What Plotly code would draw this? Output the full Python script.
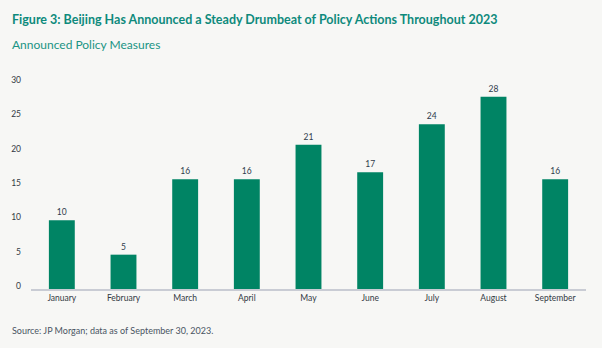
import plotly.graph_objects as go

months = ["January", "February", "March", "April", "May", "June", "July", "August", "September"]
measures = [10, 5, 16, 16, 21, 17, 24, 28, 16]
y_ticks = [0, 5, 10, 15, 20, 25, 30]

W, H = 602, 348
L, R, T, B = 31, 16, 83, 59
pw, ph = W - L - R, H - T - B

def px_x(X):
    return (X - L) / pw

def px_y(Y):
    return (H - B - Y) / ph

FONT = "Lato"

fig = go.Figure(go.Bar(
    x=months, y=measures,
    marker=dict(color="#008464", line=dict(width=0)),
    width=0.42,
    text=[str(v) for v in measures],
    textposition="outside",
    textfont=dict(family=FONT, size=8.5, color="#2f3b4c"),
    cliponaxis=False,
))

fig.update_layout(
    width=W, height=H,
    margin=dict(l=L, r=R, t=T, b=B, pad=0),
    paper_bgcolor="#f7f7f5", plot_bgcolor="#f7f7f5",
    showlegend=False,
    font=dict(family=FONT, size=8.5, color="#333333"),
    xaxis=dict(showgrid=False, showline=True, linecolor="#c9ccd4", linewidth=2,
               ticks="", tickfont=dict(size=8.5, color="#333a44"), zeroline=False),
    yaxis=dict(range=[0, 30], tickvals=y_ticks, showgrid=False, zeroline=False,
               showline=False, ticks="", ticklabelstandoff=9, ticklabelshift=-3,
               tickfont=dict(size=8.5, color="#333a44")),
    annotations=[
        dict(text="<b>Figure 3: Beijing Has Announced a Steady Drumbeat of Policy Actions Throughout 2023</b>",
             xref="paper", yref="paper", x=px_x(10), y=px_y(20), xanchor="left", yanchor="middle",
             showarrow=False, font=dict(family=FONT, size=12.5, color="#0e8a7c")),
        dict(text="Announced Policy Measures",
             xref="paper", yref="paper", x=px_x(10), y=px_y(44), xanchor="left", yanchor="middle",
             showarrow=False, font=dict(family=FONT, size=12, color="#1a9484")),
        dict(text="Source: JP Morgan; data as of September 30, 2023.",
             xref="paper", yref="paper", x=px_x(10), y=px_y(330), xanchor="left", yanchor="middle",
             showarrow=False, font=dict(family=FONT, size=9, color="#4a5563")),
    ],
)

fig.write_html("out.html")
